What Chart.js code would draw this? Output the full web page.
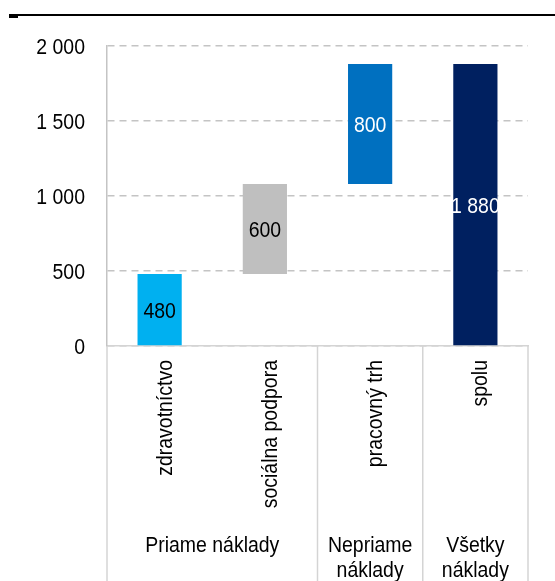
<!DOCTYPE html>
<html>
<head>
<meta charset="utf-8">
<script src="https://cdn.jsdelivr.net/npm/chart.js@4/dist/chart.umd.min.js"></script>
<style>
  html, body { margin: 0; padding: 0; background: #fff; }
  #wrap { width: 555px; height: 581px; position: relative; }
</style>
</head>
<body>
<div id="wrap"><canvas id="c" width="555" height="581"></canvas></div>
<script>
// ---- data ----
const categories = ['zdravotníctvo', 'sociálna podpora', 'pracovný trh', 'spolu'];
const barBase = [0, 480, 1080, 0];
const barValue = [480, 600, 800, 1880];
const valueLabels = ['480', '600', '800', '1 880'];
const barColors = ['#00B0F0', '#BFBFBF', '#0070C0', '#002060'];
const labelColors = ['#000000', '#000000', '#ffffff', '#ffffff'];
const groupNames = [['Priame náklady'], ['Nepriame', 'náklady'], ['Všetky', 'náklady']];
const groupSpans = [2, 1, 1];
const yTicks = [0, 500, 1000, 1500, 2000];

const FONT = '22px "Liberation Sans", Arial, sans-serif';
const SQUEEZE = 0.885;

const fmt = v => String(v).replace(/\B(?=(\d{3})+(?!\d))/g, ' ');

function txt(ctx, s, x, y, align, color, rotate) {
  ctx.save();
  ctx.translate(x, y);
  if (rotate) ctx.rotate(-Math.PI / 2);
  ctx.scale(SQUEEZE, 1);
  ctx.font = FONT;
  ctx.fillStyle = color;
  ctx.textAlign = align;
  ctx.textBaseline = 'alphabetic';
  ctx.fillText(s, 0, 0);
  ctx.restore();
}

const decor = {
  id: 'decor',
  beforeDraw(chart) {
    const ctx = chart.ctx;
    ctx.save();
    ctx.strokeStyle = '#000';
    ctx.lineWidth = 2;
    ctx.beginPath();
    ctx.moveTo(9, 15);
    ctx.lineTo(555, 15);
    ctx.stroke();
    ctx.fillStyle = '#000';
    ctx.fillRect(9, 14, 9, 4);
    ctx.restore();
  },
  afterDraw(chart) {
    const ctx = chart.ctx;
    const x = chart.scales.x;
    const y = chart.scales.y;
    const area = chart.chartArea;
    ctx.save();
    // separators
    const bounds = [area.left];
    let idx = 0;
    groupSpans.forEach(s => {
      idx += s;
      if (idx >= categories.length) bounds.push(area.right);
      else bounds.push((x.getPixelForValue(idx - 1) + x.getPixelForValue(idx)) / 2);
    });
    ctx.strokeStyle = '#d4d4d4';
    ctx.lineWidth = 1.5;
    bounds.forEach(b => {
      ctx.beginPath();
      ctx.moveTo(b, area.bottom);
      ctx.lineTo(b, 581);
      ctx.stroke();
    });
    ctx.restore();
    // y tick labels
    yTicks.forEach(v => txt(ctx, fmt(v), area.left - 22, y.getPixelForValue(v) + 7.5, 'right', '#000', false));
    // category labels (rotated)
    categories.forEach((c, i) => txt(ctx, c, x.getPixelForValue(i) + 12, area.bottom + 14, 'right', '#000', true));
    // group labels
    groupNames.forEach((lines, i) => {
      const cx = (bounds[i] + bounds[i + 1]) / 2;
      lines.forEach((t, j) => txt(ctx, t, cx, 552 + j * 25, 'center', '#000', false));
    });
    // value labels
    const meta = chart.getDatasetMeta(0);
    meta.data.forEach((bar, i) => {
      const y0 = y.getPixelForValue(barBase[i]);
      const y1 = y.getPixelForValue(barBase[i] + barValue[i]);
      txt(ctx, valueLabels[i], bar.x, (y0 + y1) / 2 + 8, 'center', labelColors[i], false);
    });
  }
};

new Chart(document.getElementById('c'), {
  type: 'bar',
  data: {
    labels: categories,
    datasets: [{
      data: barBase.map((b, i) => [b, b + barValue[i]]),
      backgroundColor: barColors,
      borderWidth: 0,
      borderSkipped: false,
      barPercentage: 0.42,
      categoryPercentage: 1
    }]
  },
  options: {
    responsive: false,
    animation: false,
    devicePixelRatio: 1,
    layout: { padding: { top: 46, right: 27, bottom: 0, left: 0 } },
    plugins: { legend: { display: false }, tooltip: { enabled: false } },
    scales: {
      x: {
        grid: { display: false, drawTicks: false },
        border: { display: true, color: '#d4d4d4', width: 1.5 },
        ticks: { display: false, autoSkip: false },
        afterFit(s) { s.height = 235; }
      },
      y: {
        min: 0, max: 2000,
        afterBuildTicks(s) { s.ticks = yTicks.map(v => ({ value: v })); },
        grid: { color: '#c4c4c4', lineWidth: 1.5, drawTicks: false },
        border: { display: true, color: '#c4c4c4', width: 1.5, dash: [7, 5] },
        ticks: { display: false },
        afterFit(s) { s.width = 107; }
      }
    }
  },
  plugins: [decor]
});
</script>
</body>
</html>
